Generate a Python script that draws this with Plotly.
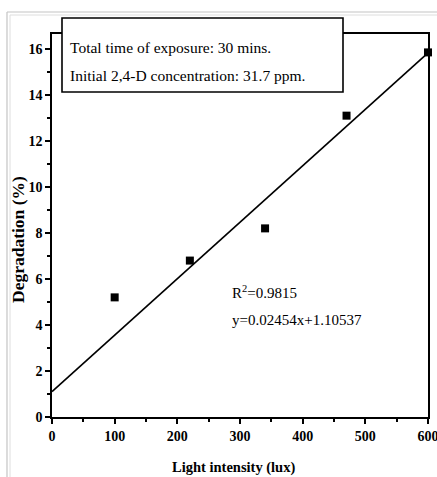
import plotly.graph_objects as go

# Measured degradation of 2,4-D versus light intensity
light_lux = [100, 220, 340, 470, 600]
degradation_pct = [5.2, 6.8, 8.2, 13.1, 15.85]

# Linear fit parameters
slope = 0.02454
intercept = 1.10537
r_squared = 0.9815
fit_x = [0, 600]
fit_y = [slope * x + intercept for x in fit_x]

x_ticks = [0, 100, 200, 300, 400, 500, 600]
y_ticks = [0, 2, 4, 6, 8, 10, 12, 14, 16]

W, H = 437, 477
L, R, T, B = 52, 9, 34, 60
PW, PH = W - L - R, H - T - B


def px(x):
    return (x - L) / PW


def py(y):
    return (H - B - y) / PH


SERIF = "Liberation Serif, Times New Roman, serif"

fig = go.Figure()
fig.add_trace(go.Scatter(
    x=fit_x, y=fit_y, mode="lines",
    line=dict(color="black", width=1.6), showlegend=False, hoverinfo="skip"))
fig.add_trace(go.Scatter(
    x=light_lux, y=degradation_pct, mode="markers",
    marker=dict(symbol="square", size=8, color="black"),
    showlegend=False, cliponaxis=False))

axis_common = dict(
    showline=True, linecolor="black", linewidth=1.6, mirror=True,
    ticks="outside", ticklen=5, tickwidth=1.5, tickcolor="black",
    showgrid=False, zeroline=False, automargin=False,
    ticklabeloverflow="allow",
    tickfont=dict(family=SERIF, size=14, color="black", weight="bold"),
)

fig.update_xaxes(range=[0, 600], tickvals=x_ticks,
                 minor=dict(ticks="outside", ticklen=3, tickwidth=1.5,
                            tickcolor="black", dtick=50),
                 **axis_common)
fig.update_yaxes(range=[0, 16.65], tickvals=y_ticks,
                 minor=dict(ticks="outside", ticklen=3, tickwidth=1.5,
                            tickcolor="black", dtick=1),
                 **axis_common)

shapes = [
    # outer light frame (double line on left and top)
    dict(type="line", xref="paper", yref="paper", x0=px(7), x1=px(7),
         y0=py(12), y1=py(H), line=dict(color="#c4c4c4", width=1.2)),
    dict(type="line", xref="paper", yref="paper", x0=px(10), x1=px(10),
         y0=py(15), y1=py(H), line=dict(color="#dedede", width=1)),
    dict(type="line", xref="paper", yref="paper", x0=px(7), x1=px(W),
         y0=py(12), y1=py(12), line=dict(color="#c4c4c4", width=1.2)),
    dict(type="line", xref="paper", yref="paper", x0=px(10), x1=px(W),
         y0=py(15), y1=py(15), line=dict(color="#dedede", width=1)),
    # info box
    dict(type="rect", xref="paper", yref="paper", x0=px(62), x1=px(343),
         y0=py(92), y1=py(18), fillcolor="white",
         line=dict(color="black", width=1.6), layer="above"),
]

annotations = [
    dict(text="Total time of exposure: 30 mins.", xref="paper", yref="paper",
         x=px(68), y=py(48), xanchor="left", yanchor="middle", showarrow=False,
         font=dict(family=SERIF, size=15.5, color="black")),
    dict(text="Initial 2,4-D concentration: 31.7 ppm.", xref="paper", yref="paper",
         x=px(68), y=py(75), xanchor="left", yanchor="middle", showarrow=False,
         font=dict(family=SERIF, size=15.5, color="black")),
    dict(text=f"R<sup>2</sup>={r_squared}", xref="paper", yref="paper",
         x=px(230), y=py(292), xanchor="left", yanchor="middle", showarrow=False,
         font=dict(family=SERIF, size=15, color="black")),
    dict(text=f"y={slope}x+{intercept}", xref="paper", yref="paper",
         x=px(230), y=py(320), xanchor="left", yanchor="middle", showarrow=False,
         font=dict(family=SERIF, size=15, color="black")),
    dict(text="<b>Light intensity (lux)</b>", xref="paper", yref="paper",
         x=px(233), y=py(467), xanchor="center", yanchor="middle", showarrow=False,
         font=dict(family=SERIF, size=14.5, color="black")),
    dict(text="<b>Degradation (%)</b>", xref="paper", yref="paper",
         x=px(18), y=py(240), xanchor="center", yanchor="middle", showarrow=False,
         textangle=-90, font=dict(family=SERIF, size=17.5, color="black")),
]

fig.update_layout(
    width=W, height=H,
    margin=dict(l=L, r=R, t=T, b=B, autoexpand=False),
    paper_bgcolor="white", plot_bgcolor="white",
    shapes=shapes, annotations=annotations,
)

fig.write_html("out.html")
